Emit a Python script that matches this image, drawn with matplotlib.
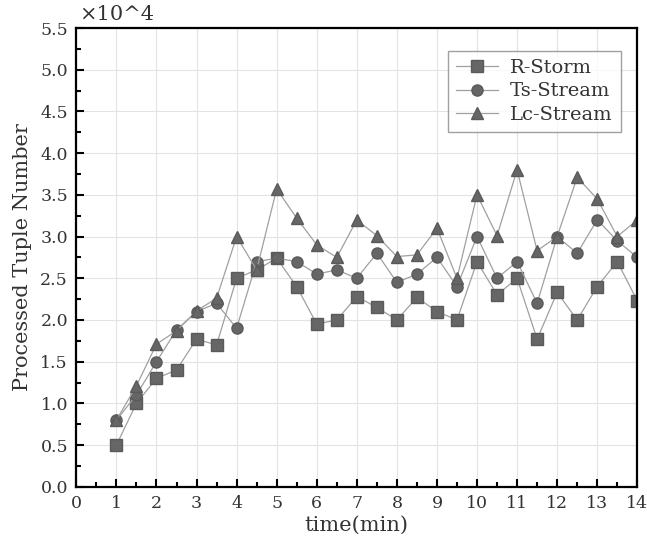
import matplotlib
matplotlib.use('Agg')
import matplotlib.pyplot as plt
from matplotlib.ticker import MultipleLocator, FormatStrFormatter

# 时间 (min)
time = [1, 1.5, 2, 2.5, 3, 3.5, 4, 4.5, 5, 5.5, 6, 6.5, 7, 7.5, 8,
        8.5, 9, 9.5, 10, 10.5, 11, 11.5, 12, 12.5, 13, 13.5, 14]

# 处理元组数 (x10^4)
r_storm = [0.5, 1.0, 1.3, 1.4, 1.77, 1.7, 2.5, 2.6, 2.74, 2.4, 1.95, 2.0, 2.28, 2.15,
           2.0, 2.27, 2.1, 2.0, 2.7, 2.3, 2.5, 1.77, 2.33, 2.0, 2.4, 2.7, 2.23]
ts_stream = [0.8, 1.1, 1.5, 1.88, 2.1, 2.2, 1.9, 2.7, 2.74, 2.7, 2.55, 2.6, 2.5, 2.8,
             2.45, 2.55, 2.75, 2.4, 3.0, 2.5, 2.7, 2.2, 3.0, 2.8, 3.2, 2.95, 2.75]
lc_stream = [0.8, 1.21, 1.71, 1.87, 2.11, 2.26, 3.0, 2.6, 3.57, 3.22, 2.9, 2.75, 3.2, 3.01,
             2.76, 2.78, 3.1, 2.5, 3.5, 3.01, 3.8, 2.83, 3.0, 3.71, 3.45, 3.0, 3.2]

series = [r_storm, ts_stream, lc_stream]
labels = ['R-Storm', 'Ts-Stream', 'Lc-Stream']
markers = ['s', 'o', '^']

plt.rcParams['font.family'] = ['DejaVu Serif']
plt.rcParams['font.size'] = 12.5

fig = plt.figure(figsize=(6.47, 5.5), dpi=100)
ax = fig.add_axes([0.118, 0.115, 0.867, 0.834])

for s, lab, m in zip(series, labels, markers):
    ax.plot(time, s, color='#a0a0a0', lw=0.9, marker=m, markersize=8,
            markerfacecolor='#666666', markeredgecolor='#5a5a5a', label=lab)

ax.set_xlim(0, 14)
ax.set_ylim(0, 5.5)
ax.xaxis.set_major_locator(MultipleLocator(1))
ax.xaxis.set_minor_locator(MultipleLocator(0.5))
ax.yaxis.set_major_locator(MultipleLocator(0.5))
ax.yaxis.set_minor_locator(MultipleLocator(0.25))
ax.yaxis.set_major_formatter(FormatStrFormatter('%.1f'))
ax.tick_params(which='both', direction='in', width=1.5, top=False, right=False,
               labelcolor='#333333')
ax.tick_params(which='major', length=6, pad=6)
ax.tick_params(which='minor', length=3.5)
for sp in ax.spines.values():
    sp.set_linewidth(1.6)

ax.grid(True, color='#e3e3e3', lw=0.8)
ax.set_axisbelow(True)

ax.set_xlabel('time(min)', fontsize=15, color='#333333', labelpad=3)
ax.set_ylabel('Processed Tuple Number', fontsize=15, color='#333333', labelpad=6)
ax.text(0.005, 1.008, '×10^4', transform=ax.transAxes, fontsize=15, va='bottom',
        ha='left', color='#333333')

leg = ax.legend(loc='upper right', bbox_to_anchor=(0.977, 0.959), fontsize=14,
                fancybox=False, edgecolor='#888888', borderpad=0.4,
                handlelength=2.2, labelspacing=0.3, handletextpad=0.6,
                borderaxespad=0.2)
leg.get_frame().set_linewidth(1.0)
for t in leg.get_texts():
    t.set_color('#333333')

fig.savefig('out.png', dpi=100)
